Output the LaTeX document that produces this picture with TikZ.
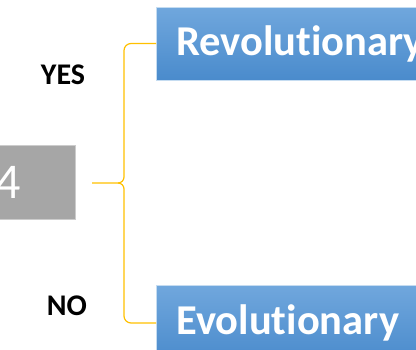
\documentclass[tikz,border=0pt]{standalone}
\usepackage{fontspec}
\setmainfont{Carlito}[Ligatures=NoCommon]
\usepackage{xcolor}
\usetikzlibrary{calc,positioning}
\definecolor{boxtop}{HTML}{70A7DD}
\definecolor{boxbot}{HTML}{4A8BCC}
\definecolor{boxedge}{HTML}{C5DCF1}
\definecolor{grayfill}{HTML}{A6A6A6}
\definecolor{bracecol}{HTML}{FFC000}

\begin{document}
\begin{tikzpicture}[x=1pt,y=-1pt,choice/.style={draw=boxedge,line width=0.8pt,top color=boxtop,bottom color=boxbot,text=white,anchor=west,text width=280pt,align=left,inner xsep=20pt,font=\fontsize{42.5}{44}\selectfont\bfseries},answer/.style={font=\fontsize{30}{31}\selectfont\bfseries},brace/.style={draw=bracecol,line width=1.2pt}]
\useasboundingbox (0,0) rectangle (416,349);
\node[choice,minimum height=73pt] (revo) at (156,43.5) {Revolutionary};
\node[choice,minimum height=76pt] (evo) at (156,323) {Evolutionary};
\node[draw=gray!40,line width=0.6pt,fill=grayfill,text=white,anchor=east,text width=40pt,align=right,inner xsep=55pt,minimum height=74pt,font=\fontsize{50}{52}\selectfont] (num) at (76,182) {4};
\node[answer] (yes) at (63,74.5) {YES};
\node[answer] (no) at (67,306) {NO};
% brace joining the number to both choices
\coordinate (tip) at (92,183);
\coordinate (spine) at (124,183);
\draw[brace] (tip) -- ([xshift=-6pt]spine) to[out=0,in=-90] ([yshift=6pt]spine) [rounded corners=7pt] |- (revo.west);
\draw[brace] ([xshift=-6pt]spine) to[out=0,in=90] ([yshift=-6pt]spine) [rounded corners=7pt] |- (evo.west);
\end{tikzpicture}
\end{document}
